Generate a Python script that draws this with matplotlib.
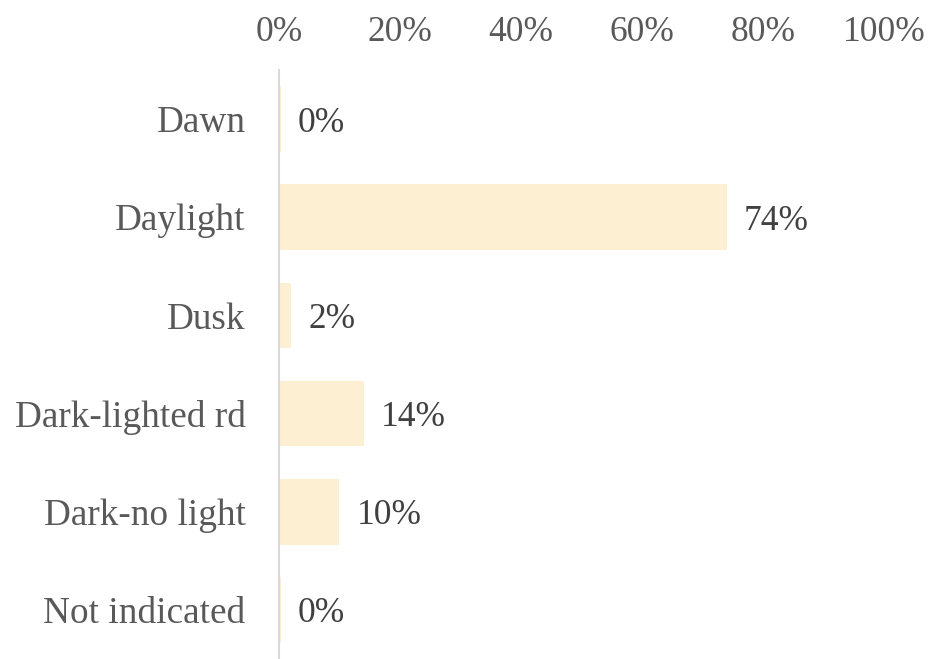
import matplotlib
matplotlib.use("Agg")
import matplotlib.pyplot as plt
from matplotlib.ticker import PercentFormatter

categories = ["Dawn", "Daylight", "Dusk", "Dark-lighted rd", "Dark-no light", "Not indicated"]
shares = [0.3, 74, 2, 14, 10, 0.3]
labels = ["0%", "74%", "2%", "14%", "10%", "0%"]
ticks = [0, 20, 40, 60, 80, 100]

plt.rcParams["font.family"] = ["Liberation Serif", "DejaVu Serif"]

fig = plt.figure(figsize=(9.3, 6.59), dpi=100)
ax = fig.add_axes([0.3, 0.0, 0.6505, 0.8938])

y = list(range(len(categories)))
ax.barh(y, shares, height=0.67, color="#FCEFD2", zorder=2)

for yi, val, txt in zip(y, shares, labels):
    ax.text(val + 2.8, yi, txt, va="center_baseline", ha="left", fontsize=25.5, color="#404040")

ax.set_xlim(0, 100)
ax.set_ylim(len(categories) - 0.5, -0.5)
ax.set_yticks(y)
ax.set_yticklabels(categories)
ax.set_xticks(ticks)
ax.xaxis.set_major_formatter(PercentFormatter(decimals=0))
ax.xaxis.tick_top()
ax.tick_params(axis="x", length=0, labelsize=25.5, labelcolor="#595959", pad=15)
ax.tick_params(axis="y", length=0, labelsize=26.8, labelcolor="#595959", pad=24)
for lbl in ax.get_yticklabels():
    lbl.set_verticalalignment("center_baseline")

for side in ["top", "right", "bottom"]:
    ax.spines[side].set_visible(False)
ax.spines["left"].set_color("#D9D9D9")
ax.spines["left"].set_linewidth(1.5)
ax.spines["left"].set_zorder(3)

fig.savefig("out.png", dpi=100)
